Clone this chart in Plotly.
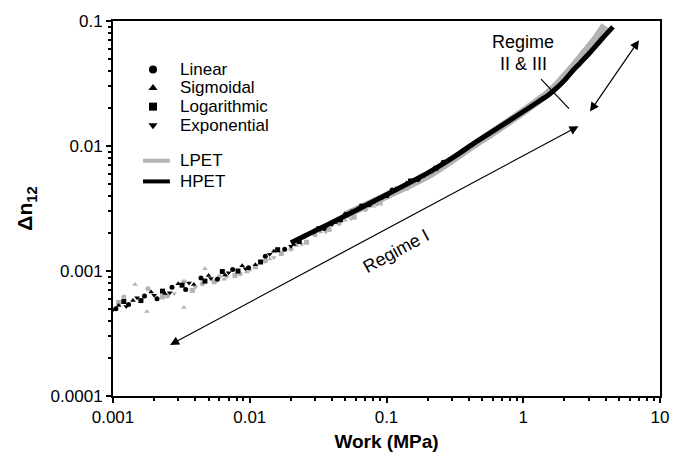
import plotly.graph_objects as go

# ---------------- data ----------------
# HPET (black) scatter points for each model
lin_h_x = [0.00105, 0.0013, 0.0017, 0.0021, 0.0027, 0.0034, 0.0044, 0.0058, 0.0075, 0.0098, 0.013, 0.018, 0.025, 0.035, 0.05, 0.075, 0.11, 0.17, 0.26]
lin_h_y = [0.00050, 0.00054, 0.00063, 0.00060, 0.00074, 0.00071, 0.00088, 0.00086, 0.00103, 0.00106, 0.00131, 0.00149, 0.00190, 0.00219, 0.00283, 0.00340, 0.00445, 0.00540, 0.0074]
sig_h_x = [0.0011, 0.0014, 0.0019, 0.0024, 0.003, 0.0039, 0.005, 0.0066, 0.0088, 0.011, 0.015, 0.021, 0.03, 0.042, 0.062, 0.09, 0.14, 0.21]
sig_h_y = [0.00053, 0.00058, 0.00068, 0.00066, 0.00079, 0.00078, 0.00092, 0.00093, 0.00110, 0.00112, 0.00144, 0.00163, 0.00212, 0.00244, 0.00318, 0.00378, 0.00505, 0.0062]
log_h_x = [0.0012, 0.0016, 0.0023, 0.0032, 0.0047, 0.0063, 0.0082, 0.012, 0.016, 0.023, 0.032, 0.046, 0.066, 0.1, 0.15, 0.23]
log_h_y = [0.00057, 0.00058, 0.00069, 0.00077, 0.00083, 0.00099, 0.00100, 0.00118, 0.00148, 0.00172, 0.00218, 0.00257, 0.00330, 0.00402, 0.00525, 0.00665]
exp_h_x = [0.001, 0.00125, 0.0015, 0.002, 0.0026, 0.0036, 0.0052, 0.007, 0.0093, 0.014, 0.02, 0.028, 0.04, 0.057, 0.082, 0.12, 0.19]
exp_h_y = [0.00049, 0.00052, 0.00061, 0.00064, 0.00067, 0.00080, 0.00087, 0.00097, 0.00104, 0.00136, 0.00158, 0.00203, 0.00236, 0.00303, 0.00360, 0.00462, 0.0058]

# LPET (grey) scatter points for each model
lin_l_x = [0.0012, 0.0018, 0.0025, 0.0033, 0.0045, 0.006, 0.0085, 0.013, 0.02, 0.03, 0.045, 0.07]
lin_l_y = [0.00062, 0.00072, 0.00063, 0.00082, 0.00079, 0.00090, 0.00095, 0.00120, 0.00150, 0.00195, 0.00240, 0.00310]
sig_l_x = [0.00145, 0.00177, 0.0033, 0.0047, 0.0065, 0.0095, 0.014, 0.022, 0.033, 0.05, 0.08]
sig_l_y = [0.00078, 0.000475, 0.00051, 0.00104, 0.00086, 0.00098, 0.00125, 0.00160, 0.00205, 0.00255, 0.0033]
log_l_x = [0.0011, 0.0023, 0.0038, 0.0055, 0.0078, 0.011, 0.017, 0.026, 0.038, 0.058, 0.09, 0.14]
log_l_y = [0.00056, 0.00062, 0.00070, 0.00082, 0.00092, 0.00108, 0.00138, 0.00170, 0.00215, 0.00270, 0.0035, 0.0046]
exp_l_x = [0.0016, 0.0028, 0.004, 0.0068, 0.01, 0.015, 0.024, 0.036, 0.055, 0.085, 0.13, 0.2]
exp_l_y = [0.00058, 0.00066, 0.00074, 0.00090, 0.00102, 0.00128, 0.00163, 0.00205, 0.00262, 0.0034, 0.0044, 0.0057]

# Continuous curves
hpet_x = [0.02, 0.0386, 0.0896, 0.208, 0.328, 0.43, 0.761, 1.32, 1.52, 1.75, 2.0, 2.3, 2.6, 3.08, 3.77, 4.53]
hpet_y = [0.00168, 0.00240, 0.00383, 0.00624, 0.0085, 0.0104, 0.0155, 0.0230, 0.0255, 0.0290, 0.0335, 0.0400, 0.0460, 0.0560, 0.0721, 0.0897]
lpet_x = [0.05, 0.1, 0.2, 0.43, 0.76, 1.3, 1.5, 1.72, 1.95, 2.27, 2.74, 3.35, 3.95]
lpet_y = [0.0028, 0.0040, 0.0058, 0.0101, 0.0153, 0.0232, 0.0262, 0.0300, 0.0349, 0.0420, 0.0540, 0.0705, 0.0920]

# Regime boundary mark
cross_x = [1.35, 2.16]
cross_y = [0.0343, 0.0199]

model_names = ["Linear", "Sigmoidal", "Logarithmic", "Exponential"]
model_symbols = ["circle", "triangle-up", "square", "triangle-down"]
material_names = ["LPET", "HPET"]

x_ticks = [0.001, 0.01, 0.1, 1, 10]
x_ticktext = ["0.001", "0.01", "0.1", "1", "10"]
y_ticks = [0.0001, 0.001, 0.01, 0.1]
y_ticktext = ["0.0001", "0.001", "0.01", "0.1"]

GREY = "#b3b3b3"
FONT = "Liberation Sans, Arial, sans-serif"

fig = go.Figure()

# LPET curve (behind)
fig.add_trace(go.Scatter(x=lpet_x, y=lpet_y, mode="lines",
                         line=dict(color=GREY, width=8, shape="spline", smoothing=0.8),
                         showlegend=False, hoverinfo="skip"))

grey_sets = [(lin_l_x, lin_l_y), (sig_l_x, sig_l_y), (log_l_x, log_l_y), (exp_l_x, exp_l_y)]
black_sets = [(lin_h_x, lin_h_y), (sig_h_x, sig_h_y), (log_h_x, log_h_y), (exp_h_x, exp_h_y)]

for (xs, ys), sym in zip(grey_sets, model_symbols):
    fig.add_trace(go.Scatter(x=xs, y=ys, mode="markers",
                             marker=dict(color=GREY, size=5, symbol=sym),
                             showlegend=False))
for (xs, ys), sym in zip(black_sets, model_symbols):
    fig.add_trace(go.Scatter(x=xs, y=ys, mode="markers",
                             marker=dict(color="black", size=5, symbol=sym),
                             showlegend=False))

# HPET curve (front)
fig.add_trace(go.Scatter(x=hpet_x, y=hpet_y, mode="lines",
                         line=dict(color="black", width=5, shape="spline", smoothing=0.8),
                         showlegend=False))

# cross mark
fig.add_trace(go.Scatter(x=cross_x, y=cross_y, mode="lines",
                         line=dict(color="black", width=1.2), showlegend=False))

# ---- custom legend on a hidden 0..1 overlay axis ----
leg_rows = [0.871, 0.8215, 0.7717, 0.7218]
mat_rows = [0.6273, 0.5722]
leg_key_x = 0.0731
leg_line_x = [0.0548, 0.104]
leg_text_x = 0.118
for name, sym, row in zip(model_names, model_symbols, leg_rows):
    fig.add_trace(go.Scatter(x=[leg_key_x], y=[row], mode="markers", xaxis="x2", yaxis="y2",
                             marker=dict(color="black", size=8, symbol=sym),
                             showlegend=False, hoverinfo="skip"))
for name, col, row in zip(material_names, [GREY, "black"], mat_rows):
    fig.add_trace(go.Scatter(x=leg_line_x, y=[row, row], mode="lines", xaxis="x2", yaxis="y2",
                             line=dict(color=col, width=4),
                             showlegend=False, hoverinfo="skip"))

annotations = []
for name, row in zip(model_names + material_names, leg_rows + mat_rows):
    annotations.append(dict(x=leg_text_x, y=row, xref="paper", yref="paper", text=name,
                            showarrow=False, xanchor="left", yanchor="middle",
                            font=dict(size=17, color="black", family=FONT)))

annotations += [
    dict(x=-2.583, y=-3.591, ax=0.415, ay=-1.835, xref="x", yref="y", axref="x", ayref="y",
         text="", showarrow=True, arrowside="end+start", arrowhead=2, startarrowhead=2,
         arrowsize=1.5, startarrowsize=1.5, arrowwidth=1.2, arrowcolor="black"),
    dict(x=0.488, y=-1.724, ax=0.854, ay=-1.142, xref="x", yref="y", axref="x", ayref="y",
         text="", showarrow=True, arrowside="end+start", arrowhead=2, startarrowhead=2,
         arrowsize=1.5, startarrowsize=1.5, arrowwidth=1.2, arrowcolor="black"),
    dict(x=-0.93, y=-2.84, xref="x", yref="y", text="Regime I", showarrow=False,
         textangle=-28.5, font=dict(size=18, color="black", family=FONT)),
    dict(x=0.0, y=-1.165, xref="x", yref="y", text="Regime", showarrow=False,
         font=dict(size=18, color="black", family=FONT)),
    dict(x=0.0, y=-1.345, xref="x", yref="y", text="II &amp; III", showarrow=False,
         font=dict(size=18, color="black", family=FONT)),
]

minor_x = [m * 10 ** k for k in range(-3, 1) for m in range(2, 10)]
minor_y = [m * 10 ** k for k in range(-4, -1) for m in range(2, 10)]

fig.update_layout(
    width=685, height=461,
    margin=dict(l=113, r=25, t=17, b=63),
    plot_bgcolor="white", paper_bgcolor="white",
    font=dict(family=FONT, size=17, color="black"),
    annotations=annotations,
    showlegend=False,
    xaxis=dict(type="log", range=[-3, 1], tickvals=x_ticks, ticktext=x_ticktext,
               showgrid=False, zeroline=False, showline=True, linewidth=2, linecolor="black",
               mirror=True, ticks="outside", ticklen=5, tickwidth=1.5, tickcolor="black",
               tickfont=dict(size=17),
               minor=dict(tickvals=minor_x, ticks="outside", ticklen=3, tickcolor="black", showgrid=False),
               title=dict(text="<b>Work (MPa)</b>", font=dict(size=19, family=FONT), standoff=8)),
    yaxis=dict(type="log", range=[-4, -1], tickvals=y_ticks, ticktext=y_ticktext,
               showgrid=False, zeroline=False, showline=True, linewidth=2, linecolor="black",
               mirror=True, ticks="outside", ticklen=5, tickwidth=1.5, tickcolor="black",
               tickfont=dict(size=17),
               minor=dict(tickvals=minor_y, ticks="outside", ticklen=3, tickcolor="black", showgrid=False),
               title=dict(text="<b>Δn<sub>12</sub></b>", font=dict(size=21, family=FONT), standoff=12)),
    xaxis2=dict(range=[0, 1], overlaying="x", anchor="y2", visible=False, fixedrange=True),
    yaxis2=dict(range=[0, 1], overlaying="y", anchor="x2", visible=False, fixedrange=True),
)

fig.write_html("out.html")
